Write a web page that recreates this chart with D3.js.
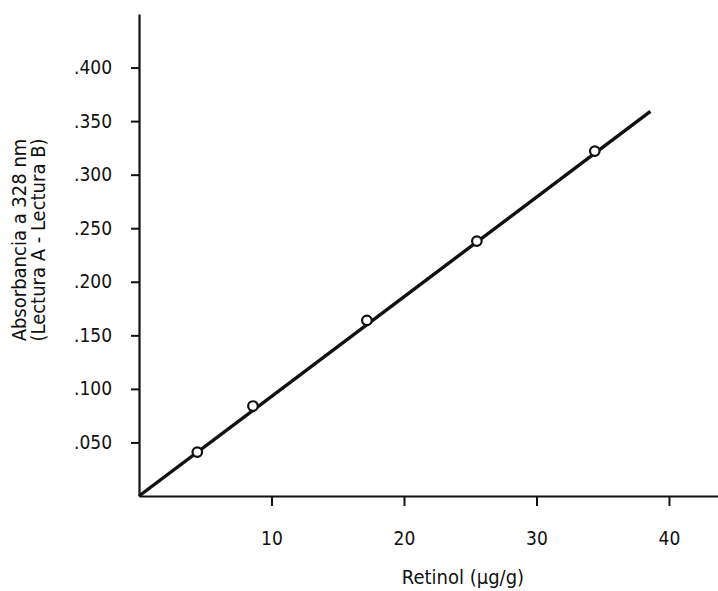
<!DOCTYPE html>
<html>
<head>
<meta charset="utf-8">
<script src="https://cdn.jsdelivr.net/npm/d3@7"></script>
<style>
  body { margin: 0; background: #fff; }
  text { font-family: "Liberation Sans Narrow", "DejaVu Sans Condensed", sans-serif; fill: #111; }
</style>
</head>
<body>
<script>
// puntos medidos
var retinol = [4.4, 8.6, 17.2, 25.5, 34.4];
var absorb = [0.041, 0.084, 0.164, 0.238, 0.322];
// recta de calibracion (extremos)
var fitX = [0, 38.6];
var fitY = [0, 0.359];
var xTicks = [10, 20, 30, 40];
var yTicks = [0.05, 0.10, 0.15, 0.20, 0.25, 0.30, 0.35, 0.40];

var w = 718, h = 591;
var svg = d3.select("body").append("svg").attr("width", w).attr("height", h);

var x = d3.scaleLinear().domain([0, 43.7]).range([139, 718]);
var y = d3.scaleLinear().domain([0, 0.45]).range([496, 14]);

var xAxis = d3.axisBottom(x).tickValues(xTicks).tickSize(10).tickSizeOuter(0).tickPadding(26)
    .tickFormat(d3.format("d"));
var yAxis = d3.axisLeft(y).tickValues(yTicks).tickSize(8).tickSizeOuter(0).tickPadding(19)
    .tickFormat(d => d3.format(".3f")(d).replace(/^0/, ""));

var gx = svg.append("g").attr("transform", "translate(0,496)").call(xAxis);
var gy = svg.append("g").attr("transform", "translate(139,0)").call(yAxis);

[gx, gy].forEach(g => {
    g.select(".domain").attr("stroke", "#111").attr("stroke-width", 2.2);
    g.selectAll(".tick line").attr("stroke", "#111").attr("stroke-width", 2);
    g.selectAll(".tick text").style("font-size", "19px").attr("fill", "#111");
});

// recta
var line = d3.line().x(d => x(d[0])).y(d => y(d[1]));
svg.append("path")
    .datum(d3.zip(fitX, fitY))
    .attr("d", line)
    .attr("fill", "none")
    .attr("stroke", "#111")
    .attr("stroke-width", 3.4);

// puntos
svg.selectAll("circle.pt")
    .data(d3.zip(retinol, absorb))
    .enter().append("circle")
    .attr("class", "pt")
    .attr("cx", d => x(d[0]))
    .attr("cy", d => y(d[1]))
    .attr("r", 4.8)
    .attr("fill", "#fff")
    .attr("stroke", "#111")
    .attr("stroke-width", 2.2);

// titulos
svg.append("text")
    .attr("x", 463).attr("y", 584)
    .attr("text-anchor", "middle")
    .style("font-size", "20px")
    .text("Retinol (\u00b5g/g)");

var yt = svg.append("text")
    .attr("transform", "translate(0,240) rotate(-90)")
    .attr("text-anchor", "middle")
    .style("font-size", "20px");
yt.append("tspan").attr("x", 0).attr("y", 26).text("Absorbancia a 328 nm");
yt.append("tspan").attr("x", 0).attr("y", 45).text("(Lectura A - Lectura B)");
</script>
</body>
</html>
